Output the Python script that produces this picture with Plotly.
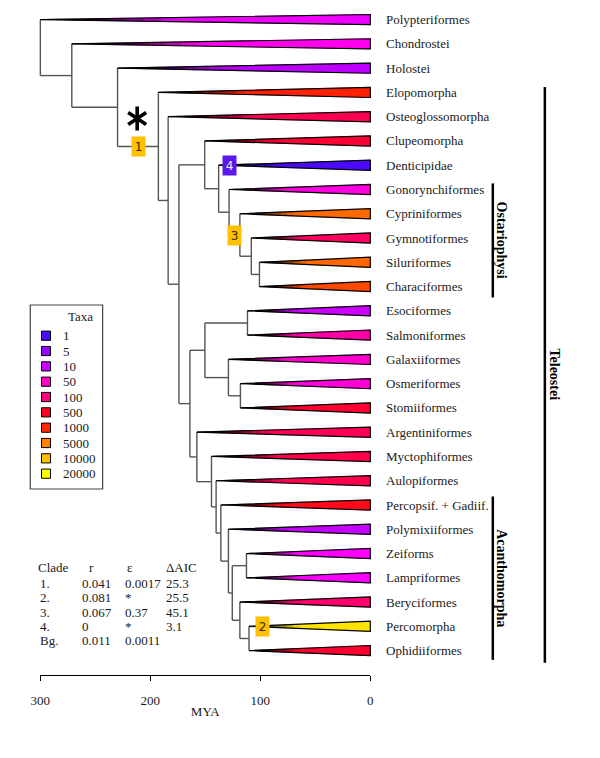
import numpy as np
import plotly.graph_objects as go

# ---------------- data ----------------
tip_names = ["Polypteriformes", "Chondrostei", "Holostei", "Elopomorpha", "Osteoglossomorpha",
             "Clupeomorpha", "Denticipidae", "Gonorynchiformes", "Cypriniformes", "Gymnotiformes",
             "Siluriformes", "Characiformes", "Esociformes", "Salmoniformes", "Galaxiiformes",
             "Osmeriformes", "Stomiiformes", "Argentiniformes", "Myctophiformes", "Aulopiformes",
             "Percopsif. + Gadiif.", "Polymixiiformes", "Zeiforms", "Lampriformes", "Beryciformes",
             "Percomorpha", "Ophidiiformes"]
tip_richness = [16, 27, 8, 900, 220, 360, 1, 35, 3300, 170, 3100, 1800, 10, 70, 50, 40, 390,
                200, 250, 230, 600, 9, 20, 19, 140, 15000, 385]

node_names = ["root", "N1", "N2", "Teleostei", "N3", "Clupeocephala", "Otocephala", "N4",
              "Ostariophysi", "N5", "N6", "N7", "Euteleostei", "Protacanth", "N8", "N9", "N10",
              "Neoteleostei", "N11", "N12", "N13", "N14", "N15", "N16", "N17", "N18"]
node_ages = [300, 271.4, 229.8, 192.7, 183.8, 174.0, 150.6, 137.9, 128.4, 118.6, 108.2, 100.8,
             164.0, 150.4, 111.7, 129.0, 118.1, 157.7, 144.4, 140.2, 135.9, 129.0, 125.5, 112.6,
             118.6, 110.3]
node_children = [("Polypteriformes", "N1"), ("Chondrostei", "N2"), ("Holostei", "Teleostei"),
                 ("Elopomorpha", "N3"), ("Osteoglossomorpha", "Clupeocephala"),
                 ("Otocephala", "Euteleostei"), ("Clupeomorpha", "N4"),
                 ("Denticipidae", "Ostariophysi"), ("Gonorynchiformes", "N5"),
                 ("Cypriniformes", "N6"), ("Gymnotiformes", "N7"),
                 ("Siluriformes", "Characiformes"), ("Protacanth", "Neoteleostei"), ("N8", "N9"),
                 ("Esociformes", "Salmoniformes"), ("Galaxiiformes", "N10"),
                 ("Osmeriformes", "Stomiiformes"), ("Argentiniformes", "N11"),
                 ("Myctophiformes", "N12"), ("Aulopiformes", "N13"),
                 ("Percopsif. + Gadiif.", "N14"), ("Polymixiiformes", "N15"), ("N16", "N17"),
                 ("Zeiforms", "Lampriformes"), ("Beryciformes", "N18"),
                 ("Percomorpha", "Ophidiiformes")]

legend_taxa = [1, 5, 10, 50, 100, 500, 1000, 5000, 10000, 20000]

shift_ids = ["1", "2", "3", "4"]
shift_ages = [211.0, 98.0, 123.5, 128.2]
shift_rows_of = ["Teleostei", "Percomorpha", "N5", "Denticipidae"]

table_header = ["Clade", "r", "ε", "ΔAIC"]
table_clade = ["1.", "2.", "3.", "4.", "Bg."]
table_r = ["0.041", "0.081", "0.067", "0", "0.011"]
table_eps = ["0.0017", "*", "0.37", "*", "0.0011"]
table_daic = ["25.3", "25.5", "45.1", "3.1", ""]

clade_bars = ["Ostariophysi", "Acanthomorpha", "Teleostei"]
clade_bar_rows = [(6.75, 11.45), (19.65, 26.38), (2.78, 26.5)]

axis_ticks = [300, 200, 100, 0]

# ---------------- colour scale (log richness) ----------------
cs_log = [0, 0.699, 1.0, 1.301, 1.699, 2.0, 2.699, 3.0, 3.699, 4.0, 4.301]
cs_rgb = [(75, 10, 255), (153, 0, 255), (204, 0, 255), (255, 0, 255), (255, 0, 204),
          (255, 0, 128), (255, 0, 34), (255, 40, 0), (255, 130, 0), (255, 192, 0),
          (255, 255, 0)]


def rich_color(n):
    v = np.log10(n)
    return tuple(float(np.interp(v, cs_log, [c[k] for c in cs_rgb])) for k in range(3))


# ---------------- geometry helpers ----------------
W, H = 600, 758
PX0, PXS = 368.3, 1.1243   # pixel of age 0, pixels per MY
PY0, PYS = 19.6, 24.27     # pixel of row 0, pixels per row


def m_of_px(px):
    return (PX0 - px) / PXS


def row_of_py(py):
    return (py - PY0) / PYS


def paper(px, py):
    return px / W, 1 - py / H


age = dict(zip(node_names, node_ages))
children = dict(zip(node_names, node_children))
row = {n: i for i, n in enumerate(tip_names)}
parent = {}
for n, ch in children.items():
    for c in ch:
        parent[c] = n


def get_row(n):
    if n in row:
        return row[n]
    r = np.mean([get_row(c) for c in children[n]])
    row[n] = r
    return r


get_row("root")

fig = go.Figure()

# ---------------- tree branches ----------------
bx, by = [], []
for n in node_names:
    ch = children[n]
    ys = [row[c] for c in ch]
    bx += [age[n], age[n], None]
    by += [min(ys), max(ys), None]
    for c in ch:
        if c in age:
            bx += [age[n], age[c], None]
            by += [row[c], row[c], None]
fig.add_trace(go.Scatter(x=bx, y=by, mode="lines", line=dict(color="#555555", width=1.4),
                         hoverinfo="skip", showlegend=False))

# ---------------- wedges ----------------
HH = 0.21
TG = 0.42
edges = np.linspace(0, TG, 9)
for name, rich in zip(tip_names, tip_richness):
    x0 = age[parent[name]]
    y = row[name]
    c = rich_color(rich)
    for a, b in zip(edges[:-1], edges[1:]):
        f = np.clip(((a + b) / 2 - 0.06) / (TG - 0.06), 0, 1)
        col = "rgb(%d,%d,%d)" % (c[0] * f, c[1] * f, c[2] * f)
        fig.add_trace(go.Scatter(
            x=[x0 * (1 - a), x0 * (1 - b), x0 * (1 - b), x0 * (1 - a), x0 * (1 - a)],
            y=[y - HH * a, y - HH * b, y + HH * b, y + HH * a, y - HH * a],
            mode="lines", fill="toself", fillcolor=col, line=dict(color=col, width=0.6),
            hoverinfo="skip", showlegend=False))
    colf = "rgb(%d,%d,%d)" % c
    fig.add_trace(go.Scatter(
        x=[x0 * (1 - TG), 0, 0, x0 * (1 - TG), x0 * (1 - TG)],
        y=[y - HH * TG, y - HH, y + HH, y + HH * TG, y - HH * TG],
        mode="lines", fill="toself", fillcolor=colf, line=dict(color=colf, width=0.6),
        hoverinfo="skip", showlegend=False))
    fig.add_trace(go.Scatter(x=[x0, 0, 0, x0], y=[y, y - HH, y + HH, y], mode="lines",
                             line=dict(color="black", width=1.2), hoverinfo="skip",
                             showlegend=False))

# ---------------- tip labels ----------------
SERIF = "Liberation Serif, Times New Roman, serif"
for name in tip_names:
    fig.add_annotation(x=m_of_px(382), y=row[name], text=name, showarrow=False,
                       xanchor="left", yanchor="middle", xref="x", yref="y",
                       font=dict(family=SERIF, size=13, color="#1a1a1a"))

# ---------------- clade bars ----------------
bar_px = [493.5, 493.5, 546.7]
txt_px = [502.8, 502.8, 556.5]
for lab, (r0, r1), bp, tp in zip(clade_bars, clade_bar_rows, bar_px, txt_px):
    fig.add_shape(type="line", x0=m_of_px(bp), x1=m_of_px(bp), y0=r0, y1=r1, xref="x",
                  yref="y", line=dict(color="black", width=2.5))
    fig.add_annotation(x=m_of_px(tp), y=(r0 + r1) / 2, text="<b>%s</b>" % lab,
                       showarrow=False, textangle=90, xref="x", yref="y",
                       font=dict(family=SERIF, size=14, color="black"))

# ---------------- rate shift labels ----------------
for sid, sa, sn in zip(shift_ids, shift_ages, shift_rows_of):
    if sid == "4":
        bg, fc = "#5b17f0", "#ece6ff"
    else:
        bg, fc = "#ffc000", "#3a2a00"
    fig.add_annotation(x=sa, y=row[sn], text=sid, showarrow=False, xref="x", yref="y",
                       bgcolor=bg, width=9, height=15, borderpad=2,
                       font=dict(family="DejaVu Sans, sans-serif", size=12, color=fc))

# asterisk (drawn as two three-armed markers -> six-armed star)
ast_x = [m_of_px(130), m_of_px(130)]
ast_y = [row_of_py(118.5), row_of_py(118.5)]
fig.add_trace(go.Scatter(x=ast_x, y=ast_y, mode="markers", hoverinfo="skip", showlegend=False,
                         marker=dict(symbol=["y-up-open", "y-down-open"], size=15,
                                     color="black",
                                     line=dict(color="black", width=3.6))))

# ---------------- legend (taxa colours) ----------------
x0p, y0p = paper(20.7, 305)
x1p, y1p = paper(94.7, 489)
fig.add_shape(type="rect", xref="paper", yref="paper", x0=x0p, x1=x1p, y0=y1p, y1=y0p,
              line=dict(color="#444", width=1.2), fillcolor="white")
tx, ty = paper(57, 316.5)
fig.add_annotation(x=tx, y=ty, text="Taxa", showarrow=False, xref="paper", yref="paper",
                   font=dict(family=SERIF, size=13, color="#1a1a1a"))
for k, n in enumerate(legend_taxa):
    cy = 335.7 + k * 15.33
    sx0, sy0 = paper(32.2, cy - 4.6)
    sx1, sy1 = paper(41.4, cy + 4.6)
    fig.add_shape(type="rect", xref="paper", yref="paper", x0=sx0, x1=sx1, y0=sy1, y1=sy0,
                  fillcolor="rgb(%d,%d,%d)" % rich_color(n), line=dict(color="black", width=1))
    lx, ly = paper(52.5, cy)
    fig.add_annotation(x=lx, y=ly, text=str(n), showarrow=False, xref="paper", yref="paper",
                       xanchor="left", font=dict(family=SERIF, size=13, color="#1a1a1a"))

# ---------------- stats table ----------------
hdr_x = [(26.5, "left"), (83.3, "center"), (122.7, "center"), (157.3, "left")]
for (hx, anc), txt in zip(hdr_x, table_header):
    px_, py_ = paper(hx, 577.3)
    fig.add_annotation(x=px_, y=py_, text=txt, showarrow=False, xref="paper", yref="paper",
                       xanchor=anc, font=dict(family=SERIF, size=13, color="#1a1a1a"))
row_py = [592.7, 607.3, 621.7, 635.7, 650.0]
col_px = [28.3, 71.8, 115.3, 157.0]
for i in range(len(table_clade)):
    vals = [table_clade[i], table_r[i], table_eps[i], table_daic[i]]
    for cx, v in zip(col_px, vals):
        if v == "":
            continue
        px_, py_ = paper(cx, row_py[i])
        fig.add_annotation(x=px_, y=py_, text=v, showarrow=False, xref="paper", yref="paper",
                           xanchor="left", font=dict(family=SERIF, size=13, color="#1a1a1a"))

# ---------------- axis trace (for the visible time axis) ----------------
fig.add_trace(go.Scatter(x=[axis_ticks[0], axis_ticks[-1]], y=[0, 0], xaxis="x2", yaxis="y",
                         mode="markers", marker=dict(opacity=0), hoverinfo="skip",
                         showlegend=False))

fig.update_layout(
    width=W, height=H, margin=dict(l=0, r=0, t=0, b=0), autosize=False,
    paper_bgcolor="white", plot_bgcolor="rgba(0,0,0,0)",
    showlegend=False,
    xaxis=dict(range=[m_of_px(0), m_of_px(W)], visible=False, domain=[0, 1]),
    yaxis=dict(range=[row_of_py(H), row_of_py(0)], visible=False, domain=[0, 1]),
    xaxis2=dict(domain=[31 / W, PX0 / W], range=[300, 0], anchor="free",
                position=1 - 675 / H, side="bottom", showline=True, linecolor="black",
                linewidth=1.3, ticks="outside", ticklen=5, tickwidth=1.3, tickcolor="black",
                tickvals=axis_ticks, ticktext=[str(t) for t in axis_ticks],
                ticklabelstandoff=8, showgrid=False, zeroline=False,
                tickfont=dict(family=SERIF, size=13, color="#1a1a1a"),
                title=dict(text="MYA", standoff=0,
                           font=dict(family=SERIF, size=13, color="#1a1a1a"))),
)

fig.write_html("out.html", config={"responsive": False, "displayModeBar": False},
               post_script="document.body.style.margin='0px';"
                           "document.body.style.overflow='hidden';")
